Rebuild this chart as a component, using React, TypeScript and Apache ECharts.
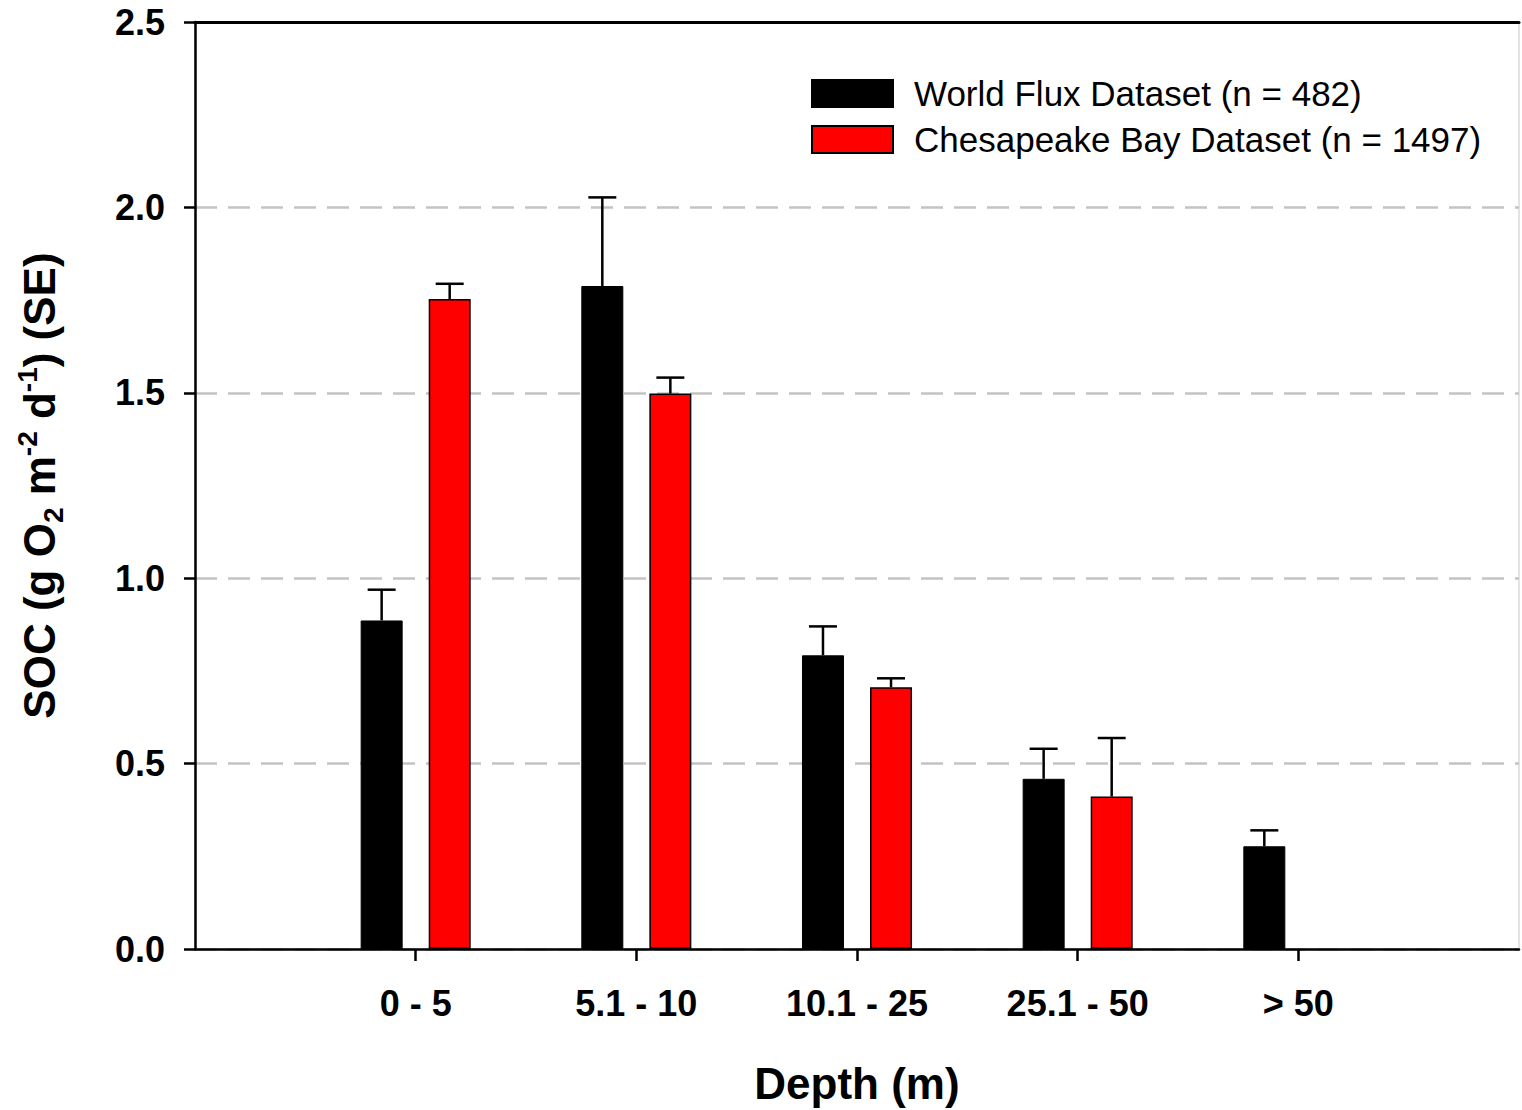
import React, { useEffect, useRef } from "react";
import * as echarts from "echarts";

const categories = ["0 - 5", "5.1 - 10", "10.1 - 25", "25.1 - 50", "> 50"];
const worldMeans = [0.886, 1.788, 0.792, 0.459, 0.277];
const worldSE = [0.083, 0.239, 0.078, 0.081, 0.043];
const bayMeans = [1.753, 1.498, 0.706, 0.411, null];
const baySE = [0.041, 0.043, 0.024, 0.158, null];
const yTicks = [0, 0.5, 1.0, 1.5, 2.0, 2.5];
const seriesNames = ["World Flux Dataset (n = 482)", "Chesapeake Bay Dataset (n = 1497)"];

const FONT = '"Liberation Sans", Arial, sans-serif';

export default function App() {
  const ref = useRef<HTMLDivElement>(null);

  useEffect(() => {
    document.body.style.margin = "0";
    document.documentElement.style.overflow = "hidden";
    if (!ref.current) return;
    const chart = echarts.init(ref.current, null, { renderer: "svg" });

    // padded axis: empty slot at both ends so categories sit at positions 1..5
    const axisCats = ["", ...categories, ""];
    const pad = (arr: (number | null)[]) => [null, ...arr, null];

    const barWidth = 42;
    const gapPct = 62;
    const offset = (barWidth + (barWidth * gapPct) / 100) / 2;

    const errData = (means: (number | null)[], se: (number | null)[]) =>
      means
        .map((m, i) => (m == null || se[i] == null ? null : [i + 1, m, (m as number) + (se[i] as number)]))
        .filter((d) => d != null);

    const makeErr = (means: (number | null)[], se: (number | null)[], dx: number) => ({
      type: "custom",
      name: "err" + dx,
      z: 5,
      silent: true,
      data: errData(means, se),
      renderItem: (params: any, api: any) => {
        const idx = api.value(0);
        const v = api.value(1);
        const top = api.value(2);
        const p0 = api.coord([idx, v]);
        const p1 = api.coord([idx, top]);
        const x = p0[0] + dx;
        const style = { stroke: "#000", lineWidth: 2.5 };
        return {
          type: "group",
          children: [
            { type: "line", shape: { x1: x, y1: p0[1], x2: x, y2: p1[1] }, style },
            { type: "line", shape: { x1: x - 14, y1: p1[1], x2: x + 14, y2: p1[1] }, style },
          ],
        };
      },
    });

    chart.setOption({
      animation: false,
      backgroundColor: "#fff",
      grid: {
        left: 195,
        right: 1,
        top: 22,
        bottom: 157,
        show: true,
        borderColor: "#c8c8c8",
        borderWidth: 1,
        containLabel: false,
      },
      legend: {
        orient: "vertical",
        left: 811,
        top: 76,
        padding: 0,
        itemWidth: 81,
        itemHeight: 27,
        itemGap: 11,
        icon: "rect",
        selectedMode: false,
        data: seriesNames,
        textStyle: {
          fontSize: 35,
          fontFamily: FONT,
          color: "#000",
          padding: [0, 0, 0, 16],
          lineHeight: 35,
        },
      },
      xAxis: [
        {
          type: "category",
          data: axisCats,
          boundaryGap: false,
          name: "Depth (m)",
          nameLocation: "middle",
          nameGap: 112,
          nameTextStyle: { fontSize: 44, fontWeight: "bold", fontFamily: FONT, color: "#000" },
          axisLine: { lineStyle: { color: "#000", width: 2.5 } },
          axisTick: {
            show: true,
            inside: false,
            length: 12,
            alignWithLabel: true,
            interval: (index: number) => index > 0 && index < axisCats.length - 1,
            lineStyle: { color: "#000", width: 2.5 },
          },
          axisLabel: {
            interval: 0,
            margin: 36,
            fontSize: 36,
            fontWeight: "bold",
            fontFamily: FONT,
            color: "#000",
          },
          splitLine: { show: false },
        },
        {
          type: "category",
          data: axisCats,
          boundaryGap: false,
          position: "top",
          axisLine: { lineStyle: { color: "#000", width: 3 } },
          axisTick: { show: false },
          axisLabel: { show: false },
          splitLine: { show: false },
        },
      ],
      yAxis: {
        type: "value",
        min: yTicks[0],
        max: yTicks[yTicks.length - 1],
        interval: 0.5,
        name: "{b|SOC (g O}{sub|2}{b| m}{sup|-2}{b| d}{sup|-1}{b|) (SE)}",
        nameLocation: "middle",
        nameGap: 128,
        nameRotate: 90,
        nameTextStyle: {
          fontFamily: FONT,
          color: "#000",
          rich: {
            b: { fontSize: 44, fontWeight: "bold", fontFamily: FONT, color: "#000", lineHeight: 56, verticalAlign: "middle" },
            sup: { fontSize: 28, fontWeight: "bold", fontFamily: FONT, color: "#000", lineHeight: 56, verticalAlign: "top", padding: [2, 0, 0, 0] },
            sub: { fontSize: 28, fontWeight: "bold", fontFamily: FONT, color: "#000", lineHeight: 56, verticalAlign: "bottom" },
          },
        },
        axisLine: { show: true, lineStyle: { color: "#000", width: 2.5 } },
        axisTick: { show: true, inside: false, length: 11, lineStyle: { color: "#000", width: 2.5 } },
        axisLabel: {
          margin: 30,
          fontSize: 36,
          fontWeight: "bold",
          fontFamily: FONT,
          color: "#000",
          formatter: (v: number) => v.toFixed(1),
        },
        splitLine: {
          show: true,
          lineStyle: { color: "#c3c3c3", width: 2.5, type: [22, 11] },
        },
      },
      series: [
        {
          name: seriesNames[0],
          type: "bar",
          data: pad(worldMeans),
          barWidth: barWidth,
          barGap: gapPct + "%",
          itemStyle: { color: "#000", borderColor: "#000", borderWidth: 1 },
          z: 3,
        },
        {
          name: seriesNames[1],
          type: "bar",
          data: pad(bayMeans),
          barWidth: barWidth,
          barGap: gapPct + "%",
          itemStyle: { color: "#ff0000", borderColor: "#000", borderWidth: 1.5 },
          z: 3,
        },
        makeErr(worldMeans, worldSE, -offset),
        makeErr(bayMeans, baySE, offset),
      ],
    });

    return () => chart.dispose();
  }, []);

  return <div ref={ref} style={{ width: 1522, height: 1110 }} />;
}
